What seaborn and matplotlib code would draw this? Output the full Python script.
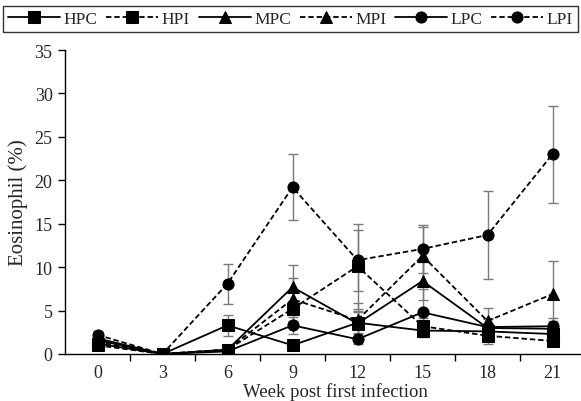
import numpy as np
import pandas as pd
import matplotlib
matplotlib.use("Agg")
import matplotlib.pyplot as plt
import seaborn as sns

weeks = [0, 3, 6, 9, 12, 15, 18, 21]
series = ["HPC", "HPI", "MPC", "MPI", "LPC", "LPI"]

HPC = [1.2, 0.0, 3.3, 1.0, 3.6, 2.7, 2.6, 2.3]
HPI = [1.0, 0.0, 0.5, 5.2, 10.1, 3.2, 2.1, 1.5]
MPC = [1.8, 0.0, 0.5, 7.7, 3.5, 8.4, 3.0, 2.9]
MPI = [1.4, 0.0, 0.5, 6.3, 3.9, 11.3, 3.8, 6.9]
LPC = [1.6, 0.0, 0.3, 3.3, 1.7, 4.8, 3.1, 3.2]
LPI = [2.2, 0.0, 8.1, 19.2, 10.8, 12.1, 13.7, 23.0]

HPC_err = [0.3, 0.0, 1.2, 0.4, 1.2, 0.8, 0.9, 0.8]
HPI_err = [0.3, 0.0, 0.3, 2.0, 4.9, 1.0, 0.9, 0.6]
MPC_err = [0.4, 0.0, 0.3, 2.5, 1.5, 2.2, 1.0, 0.9]
MPI_err = [0.3, 0.0, 0.3, 2.5, 2.0, 3.3, 1.5, 3.8]
LPC_err = [0.4, 0.0, 0.2, 1.0, 0.6, 2.7, 1.0, 1.0]
LPI_err = [0.5, 0.0, 2.3, 3.8, 3.5, 2.8, 5.1, 5.6]

values = {"HPC": HPC, "HPI": HPI, "MPC": MPC, "MPI": MPI, "LPC": LPC, "LPI": LPI}
errors = {"HPC": HPC_err, "HPI": HPI_err, "MPC": MPC_err, "MPI": MPI_err, "LPC": LPC_err, "LPI": LPI_err}

rows = []
for s in series:
    for i, w in enumerate(weeks):
        rows.append({"idx": i, "week": w, "series": s, "value": values[s][i], "err": errors[s][i]})
df = pd.DataFrame(rows)

sns.set_style("white")
plt.rcParams["font.family"] = ["Liberation Serif", "DejaVu Serif"]

fig = plt.figure(figsize=(5.81, 4.02), dpi=100)
ax = fig.add_axes([65/581, 1 - 355/402, 520/581, (355 - 51)/402])

# error bars
for s in series:
    sub = df[df.series == s]
    ax.errorbar(sub["idx"], sub["value"], yerr=sub["err"], fmt="none",
                ecolor="#7a7a7a", elinewidth=1.0, capsize=3.5, capthick=1.0, zorder=1)

markers = {"HPC": "s", "HPI": "s", "MPC": "^", "MPI": "^", "LPC": "o", "LPI": "o"}
dashes = {"HPC": "", "HPI": (3, 1.6), "MPC": "", "MPI": (3, 1.6), "LPC": "", "LPI": (3, 1.6)}
palette = {s: "black" for s in series}

sns.lineplot(data=df, x="idx", y="value", hue="series", style="series",
             hue_order=series, style_order=series,
             palette=palette, markers=markers, dashes=dashes,
             markersize=8, markeredgecolor="black", linewidth=1.3,
             ax=ax, zorder=3, legend=True)

ax.set_xlim(-0.5, 7.5)
ax.set_ylim(0, 35)
ax.set_yticks(np.arange(0, 36, 5))
ax.set_xticks(range(len(weeks)))
ax.set_xticklabels([str(w) for w in weeks])
ax.set_xticks(np.arange(0.5, 7.0, 1.0), minor=True)
ax.tick_params(axis="x", which="major", length=0, labelsize=13, pad=7)
ax.tick_params(axis="x", which="minor", length=5, width=1, direction="out", color="black")
ax.tick_params(axis="y", length=5, width=1, direction="out", labelsize=13, color="black", pad=4)
ax.yaxis.set_ticks_position("left")
ax.xaxis.set_ticks_position("bottom")

for side in ["top", "right"]:
    ax.spines[side].set_visible(False)
for side in ["left", "bottom"]:
    ax.spines[side].set_color("black")
    ax.spines[side].set_linewidth(1.0)

ax.set_xlabel("Week post first infection", fontsize=13.5)
ax.xaxis.set_label_coords((335 - 65) / 520, -(392 - 355) / 304, transform=ax.transAxes)
ax.xaxis.label.set_va("center")
ax.set_ylabel("Eosinophil (%)", fontsize=15)
ax.yaxis.set_label_coords(-(65 - 18) / 520, 0.5, transform=ax.transAxes)
ax.yaxis.label.set_va("center")

handles, labels = ax.get_legend_handles_labels()
ax.get_legend().remove()
leg = fig.legend(handles, labels, loc="center",
                 bbox_to_anchor=(3/581, 1 - 35/402, 575/581, 30/402),
                 bbox_transform=fig.transFigure,
                 mode="expand", ncol=6, frameon=True, fontsize=12.5, handlelength=3.0,
                 handletextpad=0.2, columnspacing=0.6, borderaxespad=0, fancybox=False,
                 borderpad=0.3)
leg.get_frame().set_edgecolor("black")
leg.get_frame().set_linewidth(1.0)

fig.savefig("out.png", dpi=100)
